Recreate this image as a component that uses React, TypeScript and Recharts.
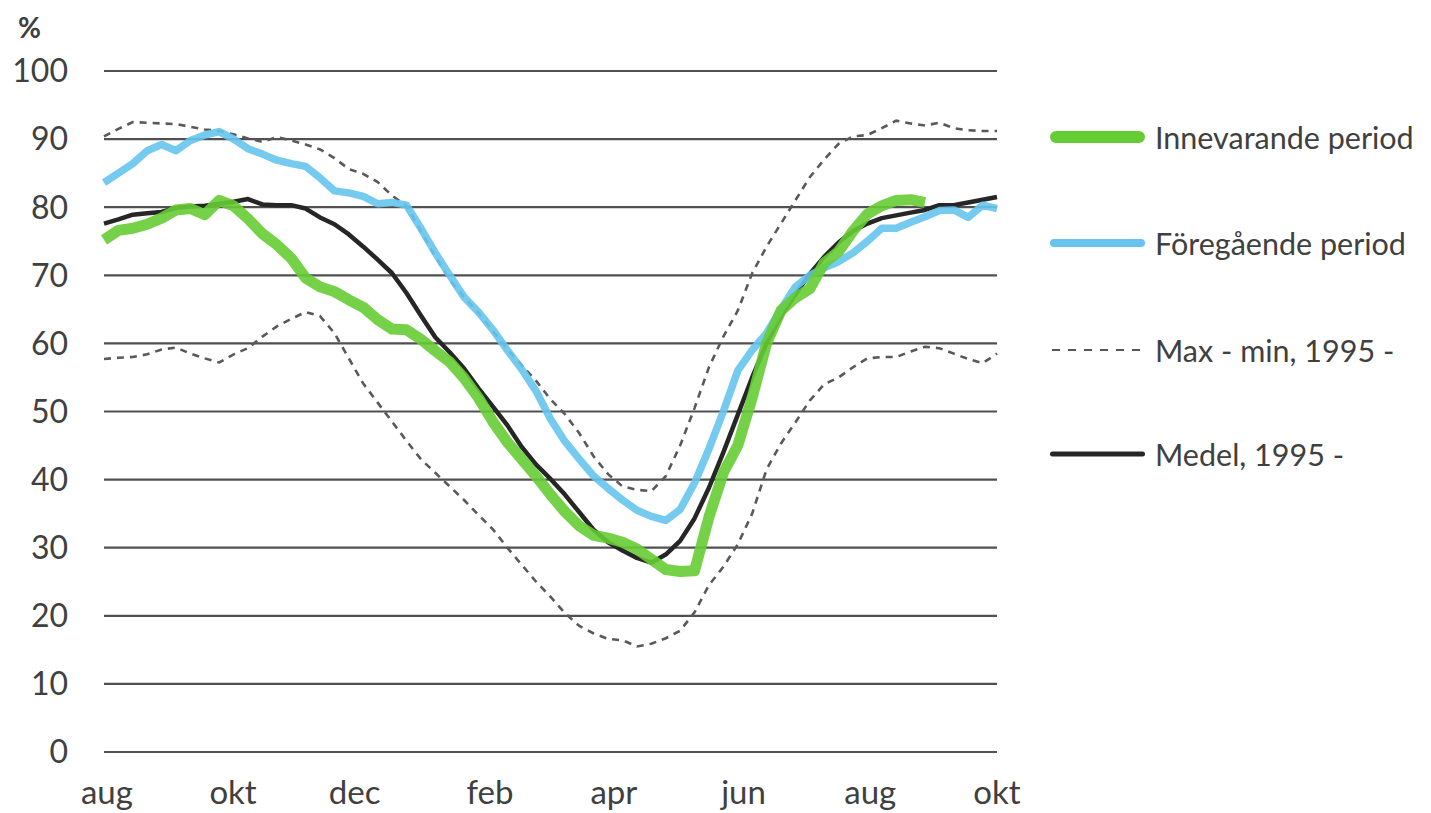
import React from "react";
import { LineChart, Line, XAxis, YAxis, CartesianGrid } from "recharts";

const weeks = [
  0, 1, 2, 3, 4, 5, 6, 7, 8, 9, 10, 11, 12, 13, 14, 15, 16, 17, 18, 19, 20,
  21, 22, 23, 24, 25, 26, 27, 28, 29, 30, 31, 32, 33, 34, 35, 36, 37, 38, 39,
  40, 41, 42, 43, 44, 45, 46, 47, 48, 49, 50, 51, 52, 53, 54, 55, 56, 57, 58,
  59, 60, 61, 62,
];

const innevarande: (number | null)[] = [
  75.2, 76.6, 76.9, 77.5, 78.4, 79.6, 79.8, 78.9, 81.0, 80.2, 78.3, 76.1, 74.5,
  72.5, 69.6, 68.3, 67.6, 66.4, 65.3, 63.5, 62.1, 62.0, 60.6, 58.9, 57.3, 54.9,
  52.0, 48.5, 45.5, 43.0, 40.5, 37.8, 35.3, 33.2, 31.8, 31.4, 30.8, 29.8, 28.3,
  26.8, 26.5, 26.6, 34.5, 41.0, 45.0, 52.0, 60.0, 64.8, 66.7, 68.0, 71.8, 73.5,
  76.5, 79.0, 80.2, 81.0, 81.1, 80.7, null, null, null, null, null,
];

const foregaende = [
  83.6, 85.0, 86.4, 88.3, 89.2, 88.3, 89.8, 90.6, 91.1, 90.0, 88.6, 87.8, 86.9,
  86.4, 86.0, 84.3, 82.4, 82.1, 81.6, 80.5, 80.7, 80.3, 76.9, 73.3, 70.0, 66.8,
  64.6, 62.0, 59.0, 56.2, 53.0, 48.9, 45.6, 43.0, 40.5, 38.7, 37.0, 35.5, 34.6,
  34.0, 35.6, 39.5, 44.5, 50.0, 56.0, 59.0, 61.5, 65.0, 68.3, 70.0, 71.1, 72.0,
  73.3, 75.0, 76.9, 76.9, 77.8, 78.6, 79.5, 79.6, 78.5, 80.3, 79.8,
];

const maxVal = [
  90.4, 91.5, 92.5, 92.4, 92.3, 92.2, 91.8, 91.4, 91.2, 90.7, 90.1, 89.6, 90.3,
  89.8, 89.2, 88.5, 87.2, 85.6, 84.9, 83.7, 81.7, 80.2, 76.5, 72.8, 69.3, 66.8,
  64.5, 61.8, 59.2, 56.8, 54.5, 51.8, 49.6, 46.8, 43.4, 40.8, 39.0, 38.5, 38.3,
  40.5, 45.0, 50.5, 56.5, 61.0, 64.8, 70.3, 74.2, 77.6, 81.0, 84.4, 87.0, 89.3,
  90.4, 90.6, 91.6, 92.7, 92.3, 92.0, 92.4, 91.6, 91.3, 91.2, 91.2,
];

const minVal = [
  57.7, 57.9, 58.0, 58.4, 59.1, 59.4, 58.5, 57.8, 57.2, 58.4, 59.3, 61.0, 62.5,
  63.6, 64.6, 64.0, 61.5, 57.8, 54.1, 51.3, 48.5, 45.7, 43.0, 41.0, 39.0, 37.0,
  34.8, 32.7, 30.0, 27.5, 25.0, 22.8, 20.4, 18.5, 17.4, 16.6, 16.4, 15.5, 15.9,
  16.7, 17.8, 20.5, 24.5, 27.2, 30.5, 35.0, 41.5, 45.3, 48.4, 51.6, 54.0, 55.0,
  56.5, 57.8, 58.0, 58.0, 58.8, 59.5, 59.3, 58.5, 57.7, 57.1, 58.5,
];

const medel = [
  77.6, 78.2, 78.9, 79.1, 79.3, 79.9, 80.1, 80.2, 80.5, 80.8, 81.2, 80.4, 80.3,
  80.3, 79.8, 78.5, 77.5, 76.0, 74.2, 72.3, 70.3, 67.4, 64.1, 60.9, 58.7, 56.3,
  53.4, 50.7, 48.0, 44.8, 42.2, 40.1, 37.8, 35.2, 32.6, 30.8, 29.6, 28.5, 27.8,
  29.0, 31.0, 34.3, 38.8, 44.0, 49.5, 55.0, 60.0, 64.0, 67.2, 70.2, 72.7, 74.8,
  76.5, 77.6, 78.4, 78.8, 79.2, 79.6, 80.3, 80.3, 80.7, 81.1, 81.5,
];

const monthTickPos = [0.2, 8.96, 17.4, 26.8, 35.4, 44.4, 53.2, 62];
const monthTickLabels = ["aug", "okt", "dec", "feb", "apr", "jun", "aug", "okt"];
const yTicks = [0, 10, 20, 30, 40, 50, 60, 70, 80, 90, 100];

const data = weeks.map((w, i) => ({
  week: w,
  innevarande: innevarande[i],
  foregaende: foregaende[i],
  max: maxVal[i],
  min: minVal[i],
  medel: medel[i],
}));

const FONT = "Lato, 'Open Sans', sans-serif";
const TEXT = "#404040";

const GREEN = "#66cc33";
const BLUE = "#66c4ee";
const BLACK = "#262626";
const DASH = "#595959";

const legendRows = [
  { label: "Innevarande period", color: GREEN, width: 12, dash: undefined as string | undefined, y: 129 },
  { label: "Föregående period", color: BLUE, width: 8, dash: undefined, y: 235 },
  { label: "Max - min, 1995 -", color: DASH, width: 2, dash: "8 8", y: 342 },
  { label: "Medel, 1995 -", color: BLACK, width: 5, dash: undefined, y: 446 },
];

const tickFormatter = (v: number) => {
  const idx = monthTickPos.indexOf(v);
  return idx >= 0 ? monthTickLabels[idx] : "";
};

export default function App() {
  return (
    <div style={{ position: "relative", width: 1423, height: 805, fontFamily: FONT }}>
      <div
        style={{
          position: "absolute",
          left: 10,
          top: 2,
          fontSize: 28,
          fontWeight: 700,
          color: TEXT,
          fontFamily: FONT,
        }}
      >
        %
      </div>
      <LineChart
        width={1423}
        height={805}
        data={data}
        margin={{ top: 63, right: 434, bottom: 11, left: 26 }}
      >
        <CartesianGrid vertical={false} stroke="#505050" strokeWidth={2.2} />
        <XAxis
          dataKey="week"
          type="number"
          domain={[0, 62]}
          ticks={monthTickPos}
          interval={0}
          tickFormatter={tickFormatter}
          axisLine={false}
          tickLine={false}
          tickSize={0}
          tickMargin={29}
          height={50}
          tick={{ fill: TEXT, fontSize: 33, fontFamily: FONT }}
        />
        <YAxis
          type="number"
          domain={[0, 100]}
          ticks={yTicks}
          interval={0}
          axisLine={false}
          tickLine={false}
          tickSize={0}
          tickMargin={36}
          width={70}
          tick={{ fill: TEXT, fontSize: 32, fontFamily: FONT }}
        />
        <Line
          dataKey="max"
          stroke={DASH}
          strokeWidth={2.6}
          strokeDasharray="7 6"
          dot={false}
          type="linear"
          isAnimationActive={false}
        />
        <Line
          dataKey="min"
          stroke={DASH}
          strokeWidth={2.6}
          strokeDasharray="7 6"
          dot={false}
          type="linear"
          isAnimationActive={false}
        />
        <Line
          dataKey="medel"
          stroke={BLACK}
          strokeWidth={4.5}
          dot={false}
          type="linear"
          strokeLinejoin="round"
          isAnimationActive={false}
        />
        <Line
          dataKey="foregaende"
          stroke={BLUE}
          strokeOpacity={0.9}
          strokeWidth={7.5}
          dot={false}
          type="linear"
          strokeLinejoin="round"
          isAnimationActive={false}
        />
        <Line
          dataKey="innevarande"
          stroke={GREEN}
          strokeOpacity={0.9}
          strokeWidth={11}
          dot={false}
          type="linear"
          strokeLinejoin="round"
          connectNulls={false}
          isAnimationActive={false}
        />
      </LineChart>
      {legendRows.map((r) => (
        <div
          key={r.label}
          style={{
            position: "absolute",
            left: 1040,
            top: r.y - 20,
            height: 40,
            display: "flex",
            alignItems: "center",
            whiteSpace: "nowrap",
          }}
        >
          <svg width={107} height={40} style={{ display: "block" }}>
            <line
              x1={r.dash ? 4 : 2 + r.width / 2}
              x2={r.dash ? 96 : 97 - r.width / 2}
              y1={20}
              y2={20}
              stroke={r.color}
              strokeWidth={r.width}
              strokeLinecap={r.dash ? "butt" : "round"}
              strokeDasharray={r.dash}
            />
          </svg>
          <span style={{ fontSize: 30.5, color: TEXT, fontFamily: FONT }}>{r.label}</span>
        </div>
      ))}
    </div>
  );
}
